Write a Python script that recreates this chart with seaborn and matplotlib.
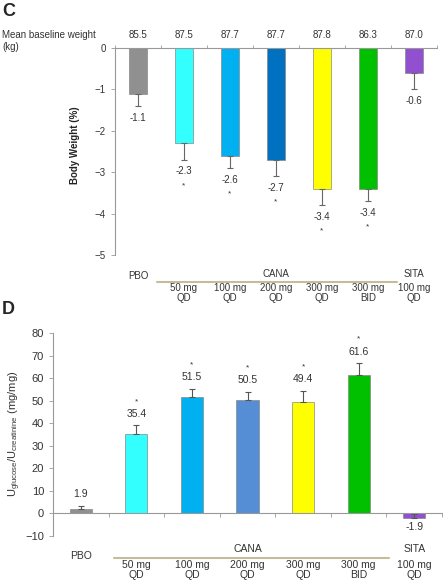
import numpy as np
import pandas as pd
import matplotlib.pyplot as plt
import seaborn as sns
from matplotlib.transforms import blended_transform_factory
from matplotlib.lines import Line2D

groups = ["PBO", "50 mg QD", "100 mg QD", "200 mg QD", "300 mg QD", "300 mg BID", "SITA 100 mg QD"]
dose_lines = ["", "50 mg\nQD", "100 mg\nQD", "200 mg\nQD", "300 mg\nQD", "300 mg\nBID", "100 mg\nQD"]
baseline_kg = [85.5, 87.5, 87.7, 87.7, 87.8, 86.3, 87.0]
weight_change = [-1.1, -2.3, -2.6, -2.7, -3.4, -3.4, -0.6]
weight_err = [0.3, 0.4, 0.3, 0.4, 0.4, 0.3, 0.4]
ugluc = [1.9, 35.4, 51.5, 50.5, 49.4, 61.6, -1.9]
ugluc_err = [1.6, 3.6, 3.8, 3.5, 5.1, 5.1, 1.5]
signif = ["", "*", "*", "*", "*", "*", ""]

colors_c = ["#909090", "#33FFFF", "#00B0F0", "#0070C0", "#FFFF00", "#00C000", "#9050D0"]
colors_d = ["#909090", "#33FFFF", "#00B0F0", "#558ED5", "#FFFF00", "#00C000", "#9050D0"]

sns.set_style("white")
plt.rcParams['font.family'] = ['Liberation Sans', 'DejaVu Sans']
txt = "#333333"
axc = "#999999"

df = pd.DataFrame({"group": groups, "weight": weight_change, "ugluc": ugluc})
x = np.arange(len(groups))

fig = plt.figure(figsize=(4.43, 5.80), dpi=100)


def fy(px):
    return 1 - px / 580


def group_labels(ax, y_pbo, y_cana, y_line, y_dose, x0, x1, fs):
    tr = blended_transform_factory(ax.transData, fig.transFigure)
    ax.text(0, fy(y_pbo), "PBO", transform=tr, ha="center", va="center", fontsize=fs, color=txt)
    ax.text(3, fy(y_cana), "CANA", transform=tr, ha="center", va="center", fontsize=fs, color=txt)
    ax.text(6, fy(y_cana), "SITA", transform=tr, ha="center", va="center", fontsize=fs, color=txt)
    fig.add_artist(Line2D([x0, x1], [fy(y_line), fy(y_line)], transform=tr, color="#C4BD97", lw=1.5))
    for i in range(1, 7):
        ax.text(i, fy(y_dose), dose_lines[i], transform=tr, ha="center", va="top",
                fontsize=fs, color=txt, linespacing=1.05)


# ---- panel C: body weight ----
ax1 = fig.add_axes([115 / 443, fy(255), 322 / 443, (255 - 48) / 580])
sns.barplot(data=df, x="group", y="weight", hue="group", palette=colors_c, legend=False,
            width=0.4, saturation=1, edgecolor="#888888", linewidth=0.5, ax=ax1)
ax1.errorbar(x, weight_change, yerr=[weight_err, [0] * 7], fmt="none", ecolor="#666666",
             elinewidth=0.8, capsize=2, capthick=0.8)
ax1.set_ylim(-5, 0)
ax1.set_xlim(-0.5, 6.5)
ax1.set_xticks(np.arange(-0.5, 7, 1))
ax1.set_xticklabels([])
ax1.xaxis.set_ticks_position("top")
ax1.set_yticks(range(-5, 1))
ax1.tick_params(axis="y", labelsize=7, colors=txt, length=3, color=axc, width=0.6, left=True)
ax1.tick_params(axis="x", length=2, color=axc, width=0.6, top=True, bottom=False)
for s in ["right", "bottom"]:
    ax1.spines[s].set_visible(False)
for s in ["left", "top"]:
    ax1.spines[s].set_color(axc)
    ax1.spines[s].set_linewidth(0.8)
ax1.set_xlabel("")
ax1.set_ylabel("")
for i, (v, e) in enumerate(zip(weight_change, weight_err)):
    ax1.text(i, v - e - 0.28, f"{v:.1f}", ha="center", va="center", fontsize=7, color=txt)
    if signif[i]:
        ax1.text(i, v - e - 0.62, signif[i], ha="center", va="center", fontsize=6, color=txt)
    ax1.text(i, 0.2, f"{baseline_kg[i]:.1f}", ha="center", va="bottom", fontsize=7, color=txt,
             clip_on=False)
fig.text(2 / 443, fy(41), "Mean baseline weight\n(kg)", ha="left", va="center", fontsize=7,
         color=txt, linespacing=1.2)
fig.text(75 / 443, fy(145), "Body Weight (%)", rotation=90, ha="center", va="center",
         fontsize=7, fontweight="bold", color="#222222")
fig.text(2 / 443, fy(12), "C", fontsize=13, fontweight="bold", va="center")
group_labels(ax1, 276, 274, 282, 283, 0.41, 5.63, 7)

# ---- panel D: urinary glucose ----
ax2 = fig.add_axes([53 / 443, fy(536), 389 / 443, (536 - 333) / 580])
sns.barplot(data=df, x="group", y="ugluc", hue="group", palette=colors_d, legend=False,
            width=0.4, saturation=1, edgecolor="#888888", linewidth=0.5, ax=ax2)
ax2.errorbar(x, ugluc, yerr=[[0] * 7, ugluc_err], fmt="none", ecolor="#555555",
             elinewidth=0.8, capsize=2, capthick=0.8)
ax2.set_ylim(-10, 80)
ax2.set_xlim(-0.5, 6.5)
ax2.set_yticks(range(-10, 81, 10))
ax2.set_xticks(np.arange(-0.5, 7, 1))
ax2.set_xticklabels([])
ax2.spines["bottom"].set_position(("data", 0))
ax2.tick_params(axis="y", labelsize=8, colors=txt, length=3, color=axc, width=0.6, left=True)
ax2.tick_params(axis="x", length=3, color=axc, width=0.6, bottom=True)
ax2.spines["right"].set_visible(False)
ax2.spines["top"].set_visible(False)
for s in ["left", "bottom"]:
    ax2.spines[s].set_color(axc)
    ax2.spines[s].set_linewidth(0.8)
ax2.set_xlabel("")
ax2.set_ylabel("")
for i, (v, e) in enumerate(zip(ugluc, ugluc_err)):
    if v >= 0:
        ax2.text(i, v + e + 5, f"{v:.1f}", ha="center", va="center", fontsize=7.5, color=txt)
        if signif[i]:
            ax2.text(i, v + e + 10.5, signif[i], ha="center", va="center", fontsize=6, color=txt)
    else:
        ax2.text(i, v - 4.3, f"{v:.1f}", ha="center", va="center", fontsize=7.5, color=txt)
fig.text(15 / 443, fy(434), r"U$_{\mathregular{glucose}}$/U$_{\mathregular{creatinine}}$ (mg/mg)",
         rotation=90, ha="center", va="center", fontsize=8, color=txt)
fig.text(2 / 443, fy(310), "D", fontsize=13, fontweight="bold", va="center")
group_labels(ax2, 556, 549, 558, 560, 0.6, 5.55, 7.5)

fig.savefig("out.png", dpi=100)
